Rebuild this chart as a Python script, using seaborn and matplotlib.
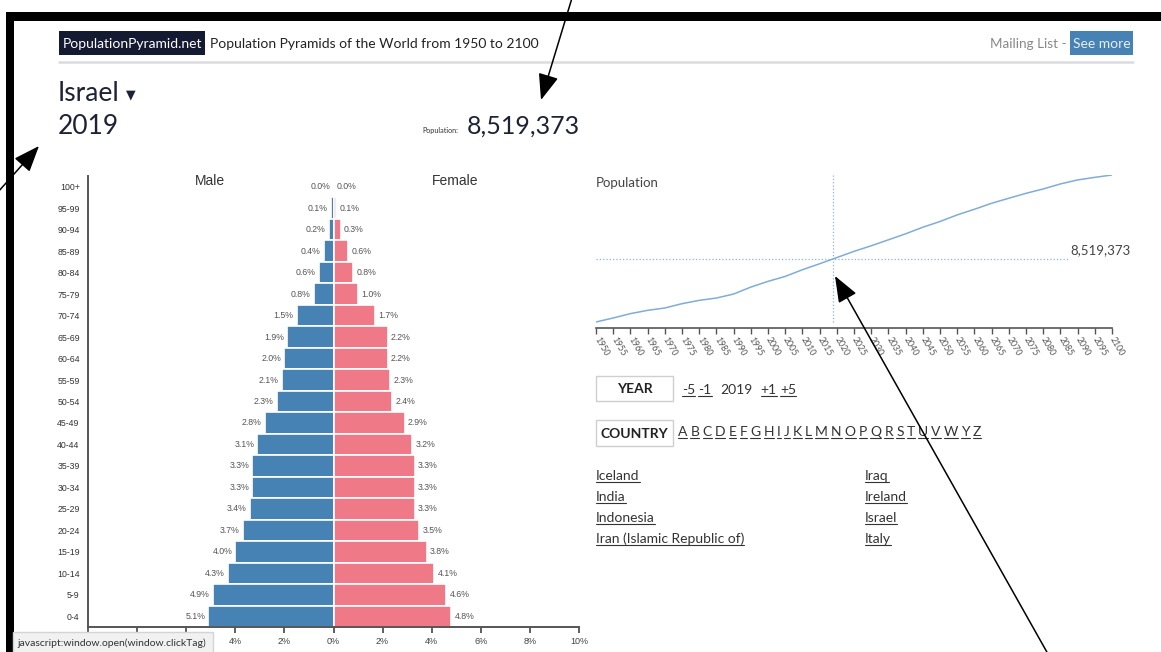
import matplotlib
matplotlib.use('Agg')
import matplotlib.pyplot as plt
import pandas as pd
import seaborn as sns
from matplotlib.patches import Rectangle

sns.set_theme(style='white')
plt.rcParams['font.family'] = ['Lato', 'DejaVu Sans']

W, H = 1161, 652

# ── data ──────────────────────────────────────────────────────
COUNTRY = 'Israel'
SEL_YEAR = 2019
SEL_POP = 8519373

AGE_GROUPS = ['0-4', '5-9', '10-14', '15-19', '20-24', '25-29', '30-34', '35-39',
              '40-44', '45-49', '50-54', '55-59', '60-64', '65-69', '70-74', '75-79',
              '80-84', '85-89', '90-94', '95-99', '100+']
MALE_PCT = [5.1, 4.9, 4.3, 4.0, 3.7, 3.4, 3.3, 3.3, 3.1, 2.8, 2.3,
            2.1, 2.0, 1.9, 1.5, 0.8, 0.6, 0.4, 0.2, 0.1, 0.0]
FEMALE_PCT = [4.8, 4.6, 4.1, 3.8, 3.5, 3.3, 3.3, 3.3, 3.2, 2.9, 2.4,
              2.3, 2.2, 2.2, 1.7, 1.0, 0.8, 0.6, 0.3, 0.1, 0.0]
PCT_TICKS = [-10, -8, -6, -4, -2, 0, 2, 4, 6, 8, 10]
HIDDEN_TICKS = [-10, -8, -6]   # covered by the browser status bar

YEARS = list(range(1950, 2101, 5))
POP_M = [1.26, 1.72, 2.22, 2.60, 2.87, 3.37, 3.75, 4.02, 4.48, 5.28, 5.94,
         6.51, 7.28, 7.97, 8.68, 9.40, 10.04, 10.73, 11.42, 12.18, 12.84,
         13.60, 14.25, 14.94, 15.52, 16.09, 16.59, 17.17, 17.63, 17.93, 18.20]

YEAR_LINKS = ['-5', '-1', '+1', '+5']
LETTERS = list('ABCDEFGHIJKLMNOPQRSTUVWYZ')
COUNTRIES_L = ['Iceland', 'India', 'Indonesia', 'Iran (Islamic Republic of)']
COUNTRIES_R = ['Iraq', 'Ireland', 'Israel', 'Italy']

MALE_C, FEMALE_C = '#4682b4', '#ef7987'
PY_FONT = ['Liberation Sans', 'DejaVu Sans']

fig = plt.figure(figsize=(W / 100, H / 100), dpi=100)
fig.patch.set_facecolor('white')


def px_axes(x0, y0, x1, y1):
    return fig.add_axes([x0 / W, 1 - y1 / H, (x1 - x0) / W, (y1 - y0) / H])


# ── pyramid ───────────────────────────────────────────────────
df = pd.DataFrame({
    'age': AGE_GROUPS * 2,
    'pct': [-v for v in MALE_PCT] + FEMALE_PCT,
    'sex': ['Male'] * len(AGE_GROUPS) + ['Female'] * len(AGE_GROUPS),
})
order = AGE_GROUPS[::-1]
axp = px_axes(88, 176, 579, 627)
sns.barplot(data=df, x='pct', y='age', hue='sex', order=order,
            hue_order=['Male', 'Female'],
            palette={'Male': MALE_C, 'Female': FEMALE_C}, saturation=1,
            dodge=False, width=1.0, edgecolor='white', linewidth=1.2,
            legend=False, ax=axp)
axp.set_xlim(-10, 10)
axp.set_ylim(len(order) - 0.5, -0.5)
axp.set_xticks(PCT_TICKS)
axp.set_xticklabels(['' if t in HIDDEN_TICKS else f'{abs(t)}%' for t in PCT_TICKS],
                    family=PY_FONT, fontsize=6.5, color='#444')
axp.set_yticks(range(len(order)))
axp.set_yticklabels(order, family=PY_FONT, fontsize=6.3, color='#333')
axp.set_xlabel('')
axp.set_ylabel('')
axp.tick_params(axis='x', length=4, width=1.2, color='#444', pad=3, bottom=True)
axp.tick_params(axis='y', length=0, pad=6)
for s in ['top', 'right']:
    axp.spines[s].set_visible(False)
for s in ['left', 'bottom']:
    axp.spines[s].set_color('#555')
    axp.spines[s].set_linewidth(1.4)
for i, age in enumerate(AGE_GROUPS):
    pos = order.index(age)
    axp.text(-MALE_PCT[i] - 0.13, pos, f'{MALE_PCT[i]:.1f}%', ha='right',
             va='center', fontsize=6.3, color='#555', family=PY_FONT)
    axp.text(FEMALE_PCT[i] + 0.13, pos, f'{FEMALE_PCT[i]:.1f}%', ha='left',
             va='center', fontsize=6.3, color='#555', family=PY_FONT)

# ── population line ───────────────────────────────────────────
axl = px_axes(596, 175, 1112, 328)
sns.lineplot(x=YEARS, y=POP_M, color='#80acd8', linewidth=1.1, ax=axl)
lo, hi = min(POP_M), max(POP_M)
axl.set_xlim(YEARS[0], YEARS[-1])
axl.set_ylim(lo - (hi - lo) * 0.041, hi)
axl.plot([SEL_YEAR, SEL_YEAR], [lo, hi], ls=':', color='#8fb3da', lw=0.9)
axl.plot([YEARS[0], 2087.5], [SEL_POP / 1e6] * 2, ls=':', color='#8fb3da', lw=0.9)
axl.text(2087.8, SEL_POP / 1e6 + 0.35, f'{SEL_POP:,}', ha='left', va='bottom',
         fontsize=9.5, color='#444')
axl.set_xticks(YEARS)
axl.set_xticklabels([str(y) for y in YEARS], rotation=-60, ha='left', va='center',
                    rotation_mode='anchor', fontsize=6.3, color='#555')
axl.set_yticks([])
for s in ['top', 'right', 'left']:
    axl.spines[s].set_visible(False)
axl.spines['bottom'].set_color('#555')
axl.spines['bottom'].set_linewidth(1.2)
axl.tick_params(axis='x', length=4, width=1, color='#555', pad=3, bottom=True)
axl.patch.set_alpha(0)

# ── page overlay ──────────────────────────────────────────────
ov = fig.add_axes([0, 0, 1, 1], zorder=10)
ov.set_xlim(0, W)
ov.set_ylim(H, 0)
ov.axis('off')
ov.patch.set_alpha(0)

# screenshot frame
ov.add_patch(Rectangle((7, 12), W - 7, 9, fc='black', ec='none'))
ov.add_patch(Rectangle((6, 12), 8, H - 12, fc='black', ec='none'))

# header
ov.add_patch(Rectangle((59, 31), 146, 24, fc='#151a33', ec='none'))
ov.text(63, 43.5, 'PopulationPyramid.net', color='white', fontsize=10, va='center')
ov.text(210, 43.5, 'Population Pyramids of the World from 1950 to 2100',
        color='#222', fontsize=10, va='center')
ov.plot([59, 1133], [62, 62], color='#dcdce0', lw=1.8)
ov.text(1067, 43.5, 'Mailing List -', color='#888', fontsize=9.7, va='center', ha='right')
ov.add_patch(Rectangle((1070, 31), 63, 24, fc='#4682b4', ec='none'))
ov.text(1101.5, 43.5, 'See more', color='#e8eef5', fontsize=10, va='center', ha='center')

ov.text(58, 101, COUNTRY, fontsize=19, color='#1e2235', va='baseline')
ov.text(126, 98, '▼', fontsize=9, color='#1e2235', va='baseline',
        family=['DejaVu Sans'])
ov.text(58, 134, str(SEL_YEAR), fontsize=19, color='#1e2235', va='baseline')
ov.text(422, 133, 'Population:', fontsize=5.2, color='#333', va='baseline')
ov.text(467, 134, f'{SEL_POP:,}', fontsize=18, color='#1e2235', va='baseline')

# pyramid headings
ov.text(210, 181, 'Male', fontsize=10, color='#333', ha='center', va='center',
        family=PY_FONT)
ov.text(455, 181, 'Female', fontsize=10, color='#333', ha='center', va='center',
        family=PY_FONT)
ov.text(596, 183, 'Population', fontsize=9.5, color='#444', va='center')

# controls
ov.add_patch(Rectangle((596, 376), 77, 25, fc='white', ec='#cfcfcf', lw=1))
ov.text(634.5, 389, 'YEAR', fontsize=10, fontweight='bold', color='#222',
        ha='center', va='center')
ov.add_patch(Rectangle((596, 420), 77, 26, fc='white', ec='#cfcfcf', lw=1))
ov.text(634.5, 434, 'COUNTRY', fontsize=10, fontweight='bold', color='#222',
        ha='center', va='center')

renderer = fig.canvas.get_renderer()
inv = ov.transData.inverted()


def place(x, y, s, link=True):
    t = ov.text(x, y, s, fontsize=10, color='#333', va='baseline')
    bb = t.get_window_extent(renderer)
    (x0, _), (x1, _) = inv.transform([[bb.x0, bb.y0], [bb.x1, bb.y1]])
    if link:
        ov.plot([x0, x1], [y + 2.2, y + 2.2], color='#333', lw=0.8)
    return x1


x = 682
for s in YEAR_LINKS[:2]:
    x = place(x, 394, s) + 3
x = place(x + 6, 394, str(SEL_YEAR), link=False) + 8
for s in YEAR_LINKS[2:]:
    x = place(x, 394, s) + 3

x = 678
for s in LETTERS:
    x = place(x, 436, s) + 3.1

for i, s in enumerate(COUNTRIES_L):
    place(596, 480 + 21 * i, s)
for i, s in enumerate(COUNTRIES_R):
    place(865, 480 + 21 * i, s)

# status bar
ov.add_patch(Rectangle((13, 632), 200, 21, fc='#f1f1f1', ec='#d4d4d4', lw=1))
ov.text(17, 643, 'javascript:window.open(window.clickTag)', fontsize=7.5,
        color='#333', va='center')

# annotation arrows
arrow = dict(arrowstyle='-|>,head_length=0.9,head_width=0.35', color='black',
             lw=1.1, mutation_scale=18, shrinkA=0, shrinkB=0)
ov.annotate('', xy=(541, 100), xytext=(572, -2), arrowprops=arrow)
ov.annotate('', xy=(39, 146), xytext=(-2, 192), arrowprops=arrow)
ov.annotate('', xy=(835, 276), xytext=(1048, 654), arrowprops=arrow)

fig.savefig('out.png', dpi=100)
